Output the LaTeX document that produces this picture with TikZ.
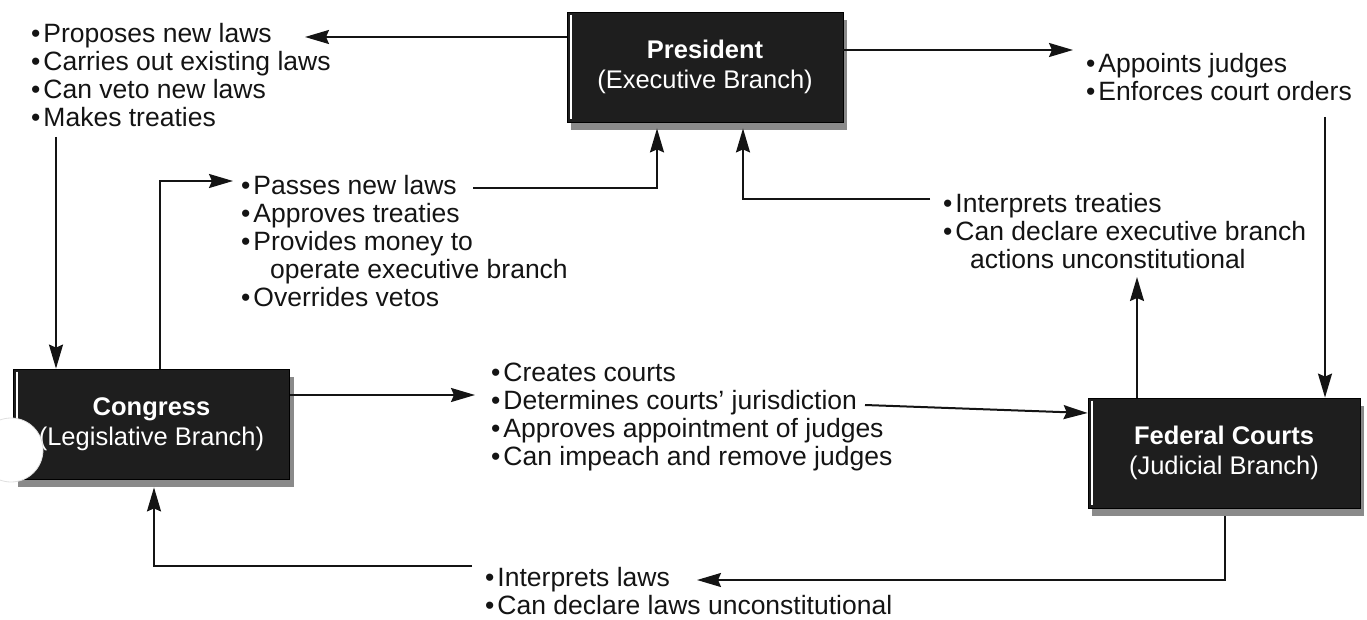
\documentclass[tikz,border=0pt]{standalone}
\usepackage{fontspec}
\setmainfont{Liberation Sans}
\usetikzlibrary{arrows.meta,shadows,calc}
\definecolor{boxblack}{HTML}{1E1E1E}
\definecolor{ink}{HTML}{141414}
\definecolor{shade}{HTML}{8A8A8A}
\newcommand\bul{\textbullet\hspace{3pt}}
\begin{document}
\begin{tikzpicture}[x=1pt,y=-1pt,
  branch/.style={fill=boxblack, draw=black, line width=0.8pt,
    minimum width=276pt, minimum height=110pt, inner sep=0pt,
    align=center, text=white, font=\fontsize{25.5}{30}\selectfont,
    drop shadow={shadow xshift=4pt, shadow yshift=-8pt, fill=shade, opacity=1}},
  txt/.style={anchor=north west, inner sep=0pt, align=left, text=ink,
    font=\fontsize{26.5}{28}\selectfont},
  arr/.style={draw=ink, line width=2pt, -{Stealth[length=24pt,width=14pt,inset=3pt]}},
  edge/.style={white, line width=2.2pt}]
\useasboundingbox (0,0) rectangle (1367,620);

% branches
\node[branch] (pres) at (705,67) {{\bfseries President}\\(Executive Branch)};
\node[branch] (cong) at (151.5,424) {{\bfseries Congress}\\(Legislative Branch)};
\node[branch, minimum width=272pt] (fed) at (1224,453) {{\bfseries Federal Courts}\\(Judicial Branch)};
\foreach \b in {pres,cong,fed}
  \draw[edge] ([xshift=4pt,yshift=-3pt]\b.north west) -- ([xshift=4pt,yshift=3pt]\b.south west);

% hole punch
\fill[white] (11,450) circle (32);
\draw[gray!25, line width=0.8pt] (11,450) circle (32);

% texts
\node[txt] (exec) at (31,23.5) {\bul Proposes new laws\\\bul Carries out existing laws\\\bul Can veto new laws\\\bul Makes treaties};
\node[txt] (appt) at (1086,53.5) {\bul Appoints judges\\\bul Enforces court orders};
\node[txt] (legis) at (241,175.5) {\bul Passes new laws\\\bul Approves treaties\\\bul Provides money to\\\hspace*{29pt}operate executive branch\\\bul Overrides vetos};
\node[txt] (jtreat) at (943,193.5) {\bul Interprets treaties\\\bul Can declare executive branch\\\hspace*{27pt}actions unconstitutional};
\node[txt] (ccourt) at (491,362.5) {\bul Creates courts\\\bul Determines courts’ jurisdiction\\\bul Approves appointment of judges\\\bul Can impeach and remove judges};
\node[txt] (jlaw) at (485,567.5) {\bul Interprets laws\\\bul Can declare laws unconstitutional};

% named free ends
\coordinate (e1) at (305,37);
\coordinate (e2) at (1073,50);
\coordinate (e4) at (233,181);
\coordinate (e7) at (1137,277);
\coordinate (e9) at (475,395);
\coordinate (e11) at (697,580);

% connectors
\draw[arr] (pres.west |- 0,37) -- (e1);
\draw[arr] (pres.east |- 0,50) -- (e2);
\draw[arr] (56,137) -- (cong.north -| 56,0);
\draw[arr] (cong.north -| 160,0) -- (160,181) -- (e4);
\draw[arr] (473,188) -- (657,188) -- ($(pres.south -| 657,0)+(0,6)$);
\draw[arr] (930,199) -- (743,199) -- ($(pres.south -| 743,0)+(0,6)$);
\draw[arr] (fed.north -| 1137,0) -- (e7);
\draw[arr] (1325,117) -- (fed.north -| 1325,0);
\draw[arr] (cong.east |- 0,395) -- (e9);
\draw[arr] (865,405) -- (fed.west |- 0,413);
\draw[arr] ($(fed.south -| 1225,0)+(0,8)$) -- (1225,580) -- (e11);
\draw[arr] (472,566) -- (154,566) -- ($(cong.south -| 154,0)+(0,8)$);
\end{tikzpicture}
\end{document}
